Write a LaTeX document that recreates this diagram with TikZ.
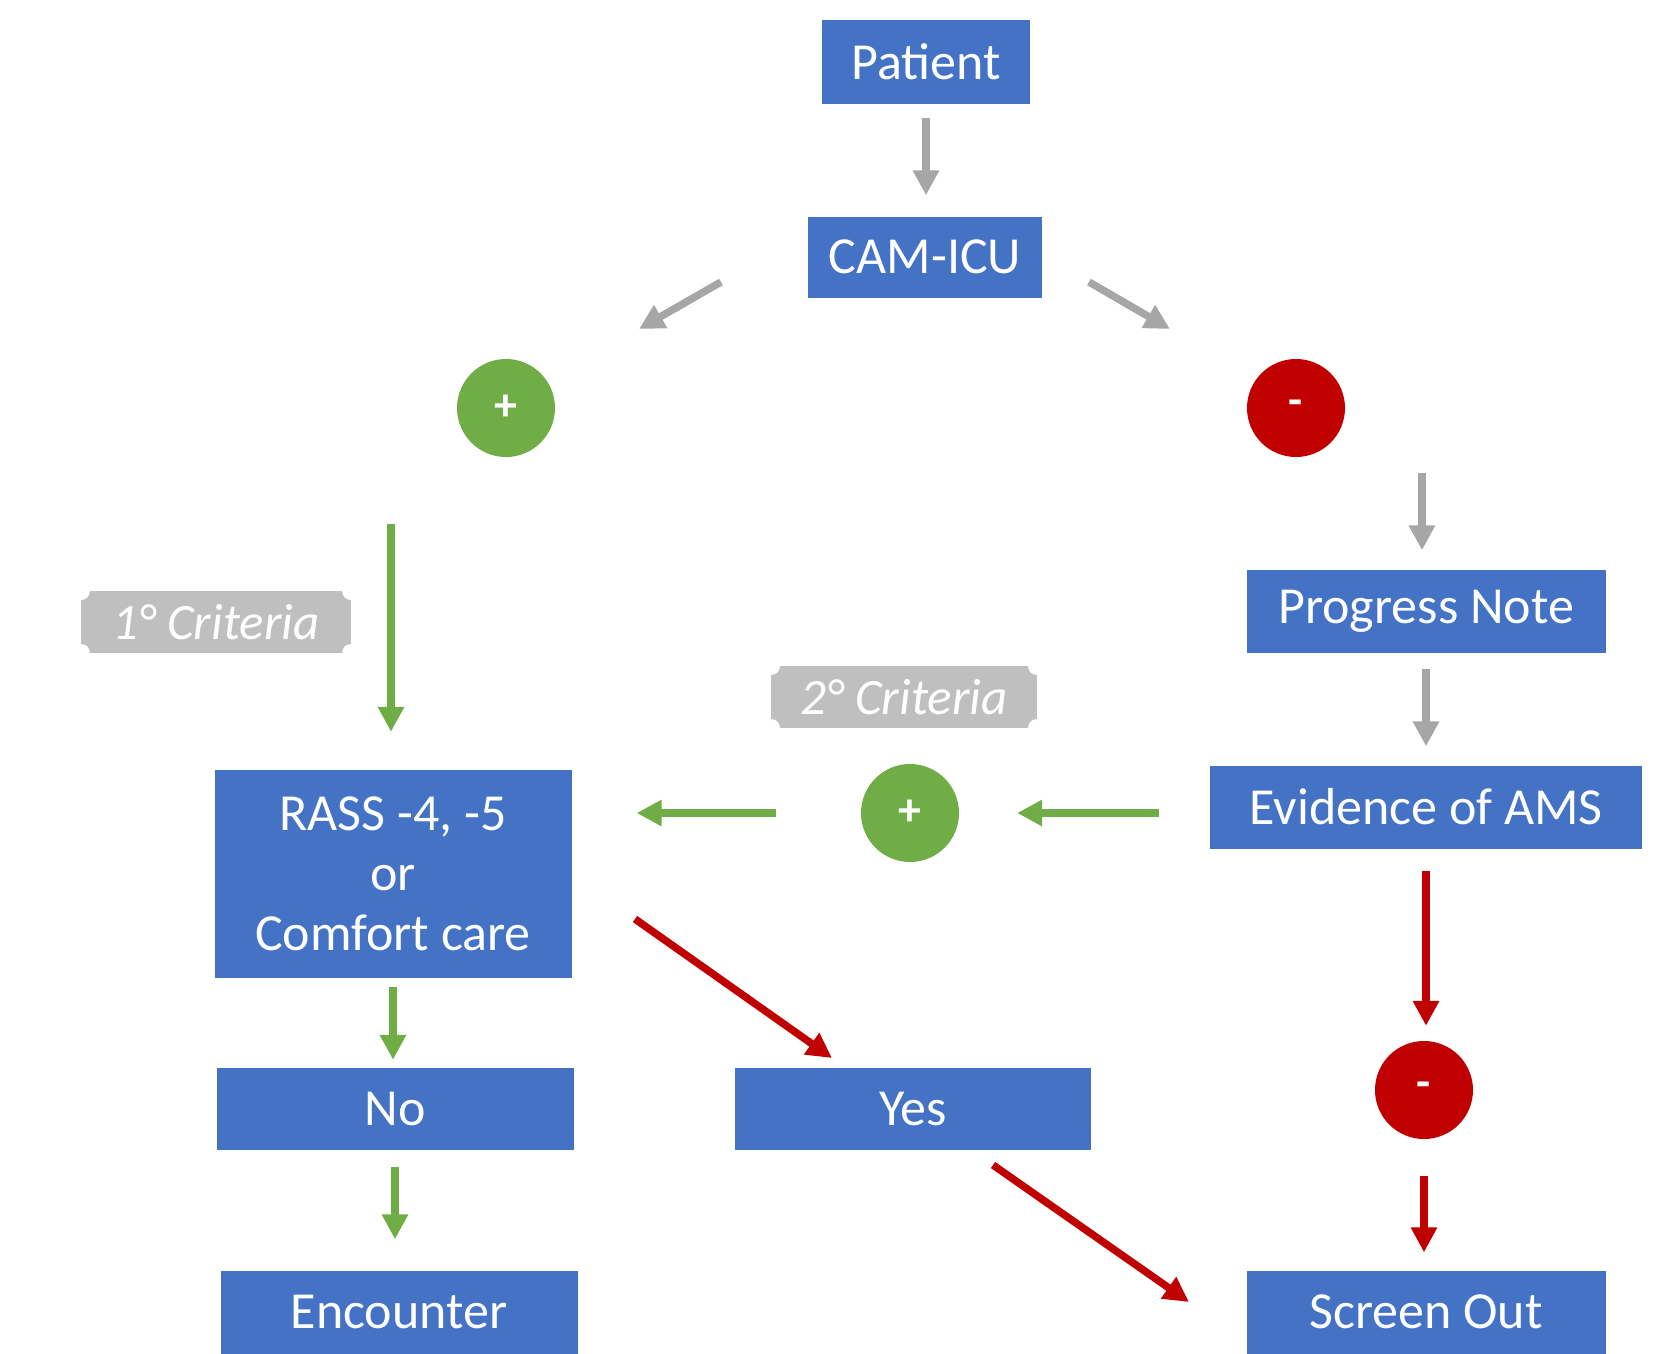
\documentclass[tikz,border=0pt]{standalone}
\usepackage{fontspec}
\setmainfont{Carlito}
\usetikzlibrary{arrows.meta}

\definecolor{boxblue}{HTML}{4472C4}
\definecolor{okgreen}{HTML}{70AD47}
\definecolor{nored}{HTML}{C00000}
\definecolor{arrowgray}{HTML}{A6A6A6}
\definecolor{taggray}{HTML}{BFBFBF}

\tikzset{
	box/.style={fill=boxblue, text=white, inner sep=0pt, align=center, minimum height=83pt, font=\fontsize{52}{60}\selectfont},
	sign/.style={circle, inner sep=0pt, minimum size=98pt, text=white, font=\fontsize{46}{48}\selectfont\bfseries},
	plaque/.style={fill=taggray, text=white, inner sep=0pt, minimum width=266pt, minimum height=62pt, font=\fontsize{51}{56}\selectfont\itshape,
		path picture={
			\fill[white] (path picture bounding box.north west) circle (9pt);
			\fill[white] (path picture bounding box.north east) circle (9pt);
			\fill[white] (path picture bounding box.south west) circle (9pt);
			\fill[white] (path picture bounding box.south east) circle (9pt);
		}},
	flow/.style={line width=7.5pt, -{Triangle[length=25pt,width=25pt]}},
}

\begin{document}
\begin{tikzpicture}[x=1pt, y=-1pt]
	
	\useasboundingbox (0,0) rectangle (1679,1354);
	
	%top
	\node[box, minimum width=208pt, minimum height=84pt] (patient) at (926,62){Patient};
	\node[box, minimum width=234pt, minimum height=81pt] (cam) at (925,257){CAM-ICU};
	\node[sign, fill=okgreen] (plus1) at (506,408){+};
	\node[sign, fill=nored] (minus1) at (1296,408){-};
	
	%right branch
	\node[box, minimum width=359pt] (progress) at (1426,611){Progress Note};
	\node[box, minimum width=432pt] (ams) at (1426,807){Evidence of AMS};
	\node[sign, fill=nored] (minus2) at (1424,1090){-};
	\node[box, minimum width=359pt] (screen) at (1426,1312){Screen Out};
	
	%middle
	\node[sign, fill=okgreen] (plus2) at (910,813){+};
	\node[plaque] (crit2) at (904,697){2° Criteria};
	\node[box, minimum width=356pt, minimum height=82pt] (yes) at (913,1109){Yes};
	
	%left branch
	\node[plaque, minimum width=270pt] (crit1) at (216,622){1° Criteria};
	\node[box, minimum width=357pt, minimum height=208pt] (rass) at (393,874){RASS -4, -5\\or\\Comfort care};
	\node[box, minimum width=357pt, minimum height=82pt] (no) at (395,1109){No};
	\node[box, minimum width=357pt] (encounter) at (399,1312){Encounter};
	
	%free arrow ends
	\coordinate (camL) at (721,282);
	\coordinate (camLend) at (639,329);
	\coordinate (camR) at (1089,282);
	\coordinate (camRend) at (1170,329);
	\coordinate (crit1top) at (391,524);
	\coordinate (minus1out) at (1422,473);
	\coordinate (rassout) at (635,919);
	\coordinate (yesin) at (832,1058);
	\coordinate (yesout) at (993,1165);
	\coordinate (screenin) at (1189,1302);
	
	%gray arrows
	\draw[flow, arrowgray, shorten <=14pt, shorten >=21pt] (patient.south) -- (patient.south |- cam.north);
	\draw[flow, arrowgray] (camL) -- (camLend);
	\draw[flow, arrowgray] (camR) -- (camRend);
	\draw[flow, arrowgray, shorten >=19pt] (minus1out) -- (minus1out |- progress.north);
	\draw[flow, arrowgray, shorten <=16pt, shorten >=19pt] (progress.south) -- (ams.north);
	
	%green arrows
	\draw[flow, okgreen, shorten >=38pt] (crit1top) -- (crit1top |- rass.north);
	\draw[flow, okgreen, shorten <=51pt, shorten >=58pt] (ams.west |- plus2) -- (plus2.east);
	\draw[flow, okgreen, shorten <=85pt, shorten >=65pt] (plus2.west) -- (plus2.west -| rass.east);
	\draw[flow, okgreen, shorten <=9pt, shorten >=8pt] (rass.south) -- (rass.south |- no.north);
	\draw[flow, okgreen, shorten <=17pt, shorten >=31pt] (no.south) -- (no.south |- encounter.north);
	
	%red arrows
	\draw[flow, nored] (rassout) -- (yesin);
	\draw[flow, nored] (yesout) -- (screenin);
	\draw[flow, nored, shorten <=22pt, shorten >=15pt] (ams.south) -- (ams.south |- minus2.north);
	\draw[flow, nored, shorten <=37pt, shorten >=18pt] (minus2.south) -- (minus2.south |- screen.north);
	
\end{tikzpicture}
\end{document}
